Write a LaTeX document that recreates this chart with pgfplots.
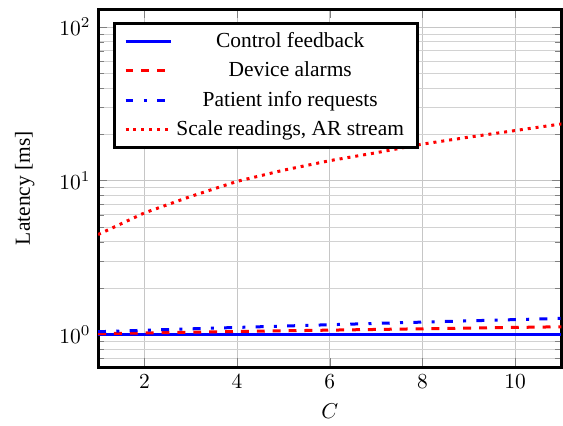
\documentclass[border=0pt]{standalone}
\usepackage{fontspec}
\setmainfont{Liberation Serif}
\usepackage{pgfplots}
\pgfplotsset{compat=1.18}

\begin{document}
\begin{tikzpicture}
\begin{axis}[
    scale only axis,
    width=216pt,
    height=167pt,
    ymode=log,
    xmin=1, xmax=11,
    ymin=0.61, ymax=131,
    xtick={2,4,6,8,10},
    xlabel={$C$},
    ylabel={Latency [ms]},
    ylabel style={at={(axis description cs:-0.158,0.5)}, anchor=center},
    grid=both,
    major grid style={gray!45},
    minor grid style={gray!35},
    axis line style={line width=1.4pt},
    legend style={
        at={(axis description cs:0.032,0.964)},
        anchor=north west,
        draw=black, line width=1.4pt,
        cells={anchor=center},
        row sep=1.3pt,
        inner xsep=4.5pt,
    },
    legend cell align=center,
    legend image code/.code={\draw[#1] (0pt,0pt) -- (21pt,0pt);},
]

\addplot[blue, line width=1.4pt] coordinates {
    (1,1) (2,1) (3,1) (4,1) (5,1) (6,1) (7,1) (8,1) (9,1) (10,1) (11,1)
};
\addlegendentry{Control feedback}

\addplot[red, line width=1.4pt, dash pattern=on 3.7pt off 3.7pt] coordinates {
    (1,1.010) (2,1.021) (3,1.032) (4,1.043) (5,1.054) (6,1.065)
    (7,1.076) (8,1.087) (9,1.098) (10,1.109) (11,1.120)
};
\addlegendentry{Device alarms}

\addplot[blue, line width=1.4pt, dash pattern=on 3.7pt off 4.8pt on 1.4pt off 4.8pt] coordinates {
    (1,1.040) (2,1.063) (3,1.086) (4,1.109) (5,1.132) (6,1.155)
    (7,1.178) (8,1.201) (9,1.224) (10,1.247) (11,1.270)
};
\addlegendentry{Patient info requests}

\addplot[red, line width=1.4pt, dash pattern=on 1.4pt off 2.3pt] coordinates {
    (1,4.46) (2,6.17) (3,7.9) (4,9.9) (5,11.7) (6,13.5)
    (7,15.2) (8,17.3) (9,19.2) (10,21.2) (11,23.4)
};
\addlegendentry{Scale readings, AR stream}

\end{axis}
\path (current axis.north west) ++(0pt,4.2pt);
\path (current axis.south west) ++(-45.7pt,0pt);
\end{tikzpicture}
\end{document}
